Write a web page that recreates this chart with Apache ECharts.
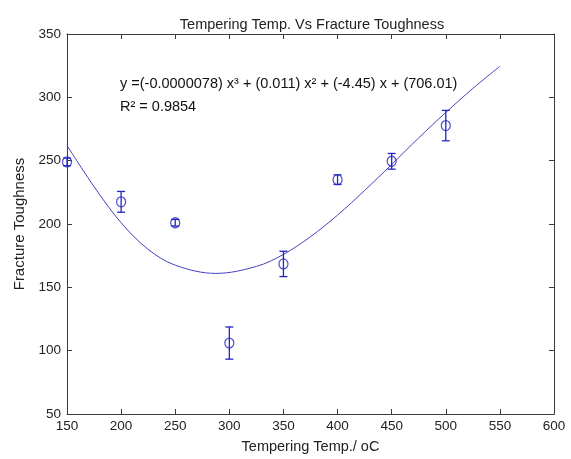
<!DOCTYPE html>
<html>
<head>
<meta charset="utf-8">
<script src="https://cdn.jsdelivr.net/npm/echarts@6/dist/echarts.min.js"></script>
<style>
html,body{margin:0;padding:0;background:#fff;}
#chart{width:571px;height:459px;}
</style>
</head>
<body>
<div id="chart"></div>
<script>
// Measured data
const tempC = [150, 200, 250, 300, 350, 400, 450, 500];
const toughness = [249, 217.5, 201, 106, 168.5, 235, 249.5, 277.7];
const errHalf = [3, 8.2, 2.6, 12.7, 10, 3.8, 6.2, 12];

// Fitted curve
const fitX = [150, 175, 200, 225, 250, 287.5, 325, 350, 375, 400, 425, 450, 475, 500, 525, 550];
const fitY = [262, 229.5, 201, 180, 167.5, 161, 166.5, 176, 190, 207, 226.5, 247, 268, 288, 307, 324.5];

const xTicks = [150, 200, 250, 300, 350, 400, 450, 500, 550, 600];
const yTicks = [50, 100, 150, 200, 250, 300, 350];

const titleText = 'Tempering Temp. Vs Fracture Toughness';
const xName = 'Tempering Temp./ oC';
const yName = 'Fracture Toughness';
const eqText = 'y =(-0.0000078) x\u00B3 + (0.011) x\u00B2 + (-4.45) x + (706.01)';
const r2Text = 'R\u00B2 = 0.9854';

const FONT = '"Liberation Sans", Arial, sans-serif';
const AXIS_COLOR = '#3a3a3a';
const MARK_COLOR = '#2424c4';
const CURVE_COLOR = '#4444c0';

const chart = echarts.init(document.getElementById('chart'), null, {renderer: 'canvas'});

const axisCommon = {
  type: 'value',
  splitLine: {show: false},
  axisLine: {show: true, onZero: false, lineStyle: {color: AXIS_COLOR, width: 1}},
  axisTick: {show: true, inside: true, length: 5, lineStyle: {color: AXIS_COLOR}},
};

const option = {
  backgroundColor: '#ffffff',
  animation: false,
  textStyle: {fontFamily: FONT},
  title: {
    text: titleText,
    left: 307, top: 12, textAlign: 'center',
    textStyle: {fontFamily: FONT, fontSize: 14.5, fontWeight: 'normal', color: '#222'}
  },
  grid: {left: 67, right: 17, top: 34, bottom: 42, containLabel: false},
  xAxis: [
    Object.assign({}, axisCommon, {
      position: 'bottom', min: 150, max: 600, interval: 50,
      name: xName, nameLocation: 'middle', nameGap: 25,
      nameTextStyle: {fontFamily: FONT, fontSize: 14.5, color: '#222'},
      axisLabel: {show: true, margin: 5, fontFamily: FONT, fontSize: 13.5, color: '#222',
        formatter: v => (xTicks.indexOf(v) >= 0 ? String(v) : '')}
    }),
    Object.assign({}, axisCommon, {
      position: 'top', min: 150, max: 600, interval: 50,
      axisLabel: {show: false}
    })
  ],
  yAxis: [
    Object.assign({}, axisCommon, {
      position: 'left', min: 50, max: 350, interval: 50,
      name: yName, nameLocation: 'middle', nameGap: 37, nameRotate: 90,
      nameTextStyle: {fontFamily: FONT, fontSize: 15, color: '#222'},
      axisLabel: {show: true, margin: 6, fontFamily: FONT, fontSize: 13.5, color: '#222',
        formatter: v => (yTicks.indexOf(v) >= 0 ? String(v) : '')}
    }),
    Object.assign({}, axisCommon, {
      position: 'right', min: 50, max: 350, interval: 50,
      axisLabel: {show: false}
    })
  ],
  graphic: [
    {type: 'text', left: 120, top: 76, silent: true,
      style: {text: eqText, fontFamily: FONT, fontSize: 14.5, fill: '#111'}},
    {type: 'text', left: 120, top: 99, silent: true,
      style: {text: r2Text, fontFamily: FONT, fontSize: 14.5, fill: '#111'}}
  ],
  series: [
    {
      type: 'line', name: 'fit',
      data: fitX.map((x, i) => [x, fitY[i]]),
      smooth: 0.35, showSymbol: false, symbol: 'none',
      lineStyle: {color: CURVE_COLOR, width: 1},
      clip: true, z: 2
    },
    {
      type: 'custom', name: 'errors',
      data: tempC.map((x, i) => [x, toughness[i] - errHalf[i], toughness[i] + errHalf[i]]),
      renderItem: function (params, api) {
        const x = api.value(0);
        const lo = api.coord([x, api.value(1)]);
        const hi = api.coord([x, api.value(2)]);
        const cap = 4;
        const st = {stroke: MARK_COLOR, lineWidth: 1.3};
        return {
          type: 'group',
          children: [
            {type: 'line', shape: {x1: lo[0], y1: lo[1], x2: hi[0], y2: hi[1]}, style: st},
            {type: 'line', shape: {x1: lo[0] - cap, y1: lo[1], x2: lo[0] + cap, y2: lo[1]}, style: st},
            {type: 'line', shape: {x1: hi[0] - cap, y1: hi[1], x2: hi[0] + cap, y2: hi[1]}, style: st}
          ]
        };
      },
      encode: {x: 0, y: [1, 2]},
      z: 3
    },
    {
      type: 'scatter', name: 'data',
      data: tempC.map((x, i) => [x, toughness[i]]),
      symbol: 'circle', symbolSize: [9, 10],
      itemStyle: {color: 'rgba(0,0,0,0)', borderColor: MARK_COLOR, borderWidth: 1.3},
      z: 4
    }
  ]
};

chart.setOption(option);
</script>
</body>
</html>
